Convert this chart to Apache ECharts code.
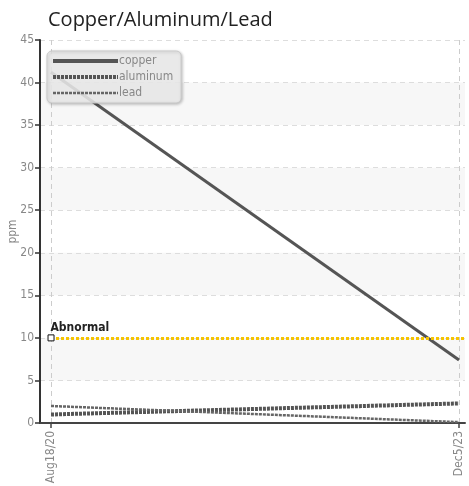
<!DOCTYPE html>
<html>
<head>
<meta charset="utf-8">
<script src="https://cdn.jsdelivr.net/npm/echarts@6/dist/echarts.min.js"></script>
<style>
  html, body { margin: 0; padding: 0; background: #fff; }
  #main { width: 469px; height: 486px; }
</style>
</head>
<body>
<div id="main"></div>
<script>
var categories = ['Aug18/20', 'Dec5/23'];
var copper = [41.2, 7.4];
var aluminum = [1.0, 2.3];
var lead = [2.0, 0.1];
var abnormal = 10;

var font = "'DejaVu Sans Condensed', Roboto, sans-serif";

function toPoints(vals) {
  return vals.map(function (v, i) { return [i, v]; });
}

var chart = echarts.init(document.getElementById('main'));

var option = {
  animation: false,
  title: {
    text: 'Copper/Aluminum/Lead',
    left: 43,
    top: 5,
    textStyle: { fontFamily: "'Open Sans', sans-serif", fontSize: 20, fontWeight: 'normal', color: '#222' }
  },
  legend: {
    orient: 'vertical',
    left: 47,
    top: 51,
    padding: [4, 8, 4, 4],
    itemGap: 4,
    itemWidth: 65,
    itemHeight: 10,
    backgroundColor: 'rgba(238,238,238,0.85)',
    borderColor: '#c8c8c8',
    borderWidth: 1,
    borderRadius: 5,
    shadowColor: 'rgba(0,0,0,0.25)',
    shadowBlur: 3,
    shadowOffsetX: 1,
    shadowOffsetY: 1,
    itemStyle: { opacity: 0 },
    textStyle: { fontFamily: font, fontSize: 12, color: '#888', padding: [0, 0, 0, -4] },
    data: [
      { name: 'copper', lineStyle: { width: 4 } },
      { name: 'aluminum', lineStyle: { width: 4 } },
      { name: 'lead', lineStyle: { width: 2.5 } }
    ]
  },
  grid: { left: 40, right: 4, top: 40, bottom: 63, outerBoundsMode: 'none' },
  xAxis: {
    type: 'value',
    min: -0.027,
    max: 1.0147,
    axisLine: { lineStyle: { color: '#444', width: 2 } },
    axisTick: { show: true, customValues: [0, 1], length: 5, lineStyle: { color: '#444', width: 1.5 } },
    axisLabel: {
      customValues: [0, 1],
      rotate: 90,
      fontFamily: font,
      fontSize: 12,
      color: '#888',
      formatter: function (v) { return categories[Math.round(v)] || ''; }
    },
    splitLine: { show: true, lineStyle: { color: '#ccc', type: [5, 4] } }
  },
  yAxis: {
    type: 'value',
    min: 0,
    max: 45,
    interval: 5,
    name: 'ppm',
    nameLocation: 'middle',
    nameGap: 21,
    nameMoveOverlap: false,
    nameTextStyle: { fontFamily: font, fontSize: 12, color: '#888' },
    axisLine: { show: true, onZero: false, lineStyle: { color: '#333', width: 2 } },
    axisTick: { show: true, length: 5, lineStyle: { color: '#333', width: 1.5 } },
    axisLabel: { fontFamily: font, fontSize: 12, color: '#888', margin: 6 },
    splitLine: { show: true, lineStyle: { color: '#ddd', type: [5, 4] } },
    splitArea: { show: true, areaStyle: { color: ['rgba(0,0,0,0)', '#f7f7f7'] } }
  },
  series: [
    {
      name: 'copper',
      type: 'line',
      data: toPoints(copper),
      symbol: 'none',
      lineStyle: { color: '#555', width: 3 },
      itemStyle: { color: '#555' },
      z: 3
    },
    {
      name: 'aluminum',
      type: 'line',
      data: toPoints(aluminum),
      symbol: 'none',
      lineStyle: { color: '#555', width: 4, type: [3, 1] },
      itemStyle: { color: '#555' }
    },
    {
      name: 'lead',
      type: 'line',
      data: toPoints(lead),
      symbol: 'none',
      lineStyle: { color: '#666', width: 2.5, type: [3, 1] },
      itemStyle: { color: '#666' },
      markLine: {
        silent: true,
        symbol: 'none',
        lineStyle: { color: '#f5c400', width: 3, type: [3, 2] },
        label: { show: false },
        data: [[{ coord: [0, abnormal] }, { coord: [1.0147, abnormal] }]]
      },
      markPoint: {
        silent: true,
        symbol: 'rect',
        symbolSize: 6,
        itemStyle: { color: '#fff', borderColor: '#111', borderWidth: 1 },
        label: {
          show: true,
          position: [3, -13],
          formatter: 'Abnormal',
          fontFamily: font,
          fontSize: 12,
          fontWeight: 'bold',
          color: '#222'
        },
        data: [{ coord: [0, abnormal] }]
      }
    }
  ]
};

chart.setOption(option);
</script>
</body>
</html>
